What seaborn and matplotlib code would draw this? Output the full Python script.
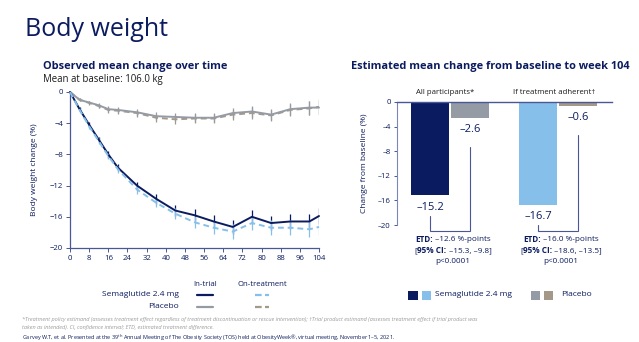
import numpy as np
import pandas as pd
import matplotlib
matplotlib.use("Agg")
import matplotlib.pyplot as plt
import matplotlib.transforms as mtransforms
import seaborn as sns
from matplotlib.lines import Line2D
from matplotlib.patches import Rectangle

# ---------------- data ----------------
weeks = [0, 4, 8, 12, 16, 20, 28, 36, 44, 52, 60, 68, 76, 84, 92, 100, 104]
sema_in_trial = [0, -2.2, -4.2, -6.1, -8.0, -9.7, -12.0, -13.7, -15.2, -15.8, -16.6, -17.3, -16.0, -16.8, -16.6, -16.6, -15.9]
sema_on_treat = [0, -2.3, -4.4, -6.3, -8.2, -9.9, -12.5, -14.2, -15.6, -16.7, -17.4, -17.9, -16.8, -17.4, -17.4, -17.6, -17.3]
pbo_in_trial = [0, -1.0, -1.35, -1.7, -2.2, -2.3, -2.6, -3.1, -3.2, -3.3, -3.3, -2.7, -2.5, -2.9, -2.2, -2.0, -2.0]
pbo_on_treat = [0, -1.0, -1.4, -1.8, -2.3, -2.4, -2.7, -3.3, -3.5, -3.4, -3.4, -2.9, -2.7, -3.0, -2.3, -2.1, -1.9]
sema_in_trial_err = [0, 0.25, 0.3, 0.35, 0.4, 0.45, 0.5, 0.6, 0.7, 0.75, 0.8, 0.9, 0.9, 0.9, 0.9, 0.95, 1.0]
sema_on_treat_err = [0, 0.25, 0.3, 0.35, 0.4, 0.45, 0.55, 0.6, 0.7, 0.75, 0.85, 0.95, 0.95, 0.95, 0.95, 1.0, 1.0]
pbo_in_trial_err = [0, 0.2, 0.25, 0.3, 0.35, 0.4, 0.45, 0.5, 0.55, 0.6, 0.6, 0.65, 0.75, 0.75, 0.8, 0.9, 0.95]
pbo_on_treat_err = [0, 0.2, 0.25, 0.3, 0.35, 0.4, 0.45, 0.5, 0.55, 0.6, 0.6, 0.65, 0.75, 0.75, 0.8, 0.9, 0.95]

x_ticks = list(range(0, 105, 8))
y_ticks = [0, -4, -8, -12, -16, -20]

bar_groups = ["All participants*", "All participants*", "If treatment adherent\u2020", "If treatment adherent\u2020"]
bar_treatments = ["Semaglutide 2.4 mg", "Placebo", "Semaglutide 2.4 mg", "Placebo"]
bar_values = [-15.2, -2.6, -16.7, -0.6]
etd_lines = [
    [[("ETD:", "bold"), (" \u201312.6 %-points", "normal")],
     [("[", "normal"), ("95% CI:", "bold"), (" \u201315.3, \u20139.8]", "normal")],
     [("p<0.0001", "normal")]],
    [[("ETD:", "bold"), (" \u201316.0 %-points", "normal")],
     [("[", "normal"), ("95% CI:", "bold"), (" \u201318.6, \u201313.5]", "normal")],
     [("p<0.0001", "normal")]],
]

# ---------------- style ----------------
NAVY = "#0b1b5f"
SPINE = "#4a5795"
LBLUE = "#86c0ea"
GRAY = "#959ba5"
TAN = "#a49889"
FOOT = "#9a9a9a"
FONT = "Open Sans"

sns.set_theme(style="white")
plt.rcParams["font.family"] = [FONT, "DejaVu Sans"]
plt.rcParams["mathtext.fontset"] = "custom"
plt.rcParams["mathtext.rm"] = FONT
plt.rcParams["mathtext.bf"] = FONT + ":bold"
plt.rcParams["mathtext.it"] = FONT + ":italic"

W, H = 639, 342
fig = plt.figure(figsize=(W / 100, H / 100), dpi=100)
fig.patch.set_facecolor("white")
renderer = fig.canvas.get_renderer()


def fx(x):
    return x / W


def fy(y):
    return 1 - y / H


def rect(x0, y0, x1, y1):
    return [fx(x0), fy(y1), (x1 - x0) / W, (y1 - y0) / H]


def mixed_text(ax, x, y, pieces, **kw):
    """Centered run of text pieces with different weights."""
    texts = []
    widths = []
    for s, w in pieces:
        t = ax.text(x, y, s, fontweight=w, ha="left", va="center", clip_on=False, **kw)
        widths.append(t.get_window_extent(renderer).width)
        texts.append(t)
    total = sum(widths)
    off = -total / 2
    for t, wd in zip(texts, widths):
        t.set_transform(ax.transData + mtransforms.ScaledTranslation(off / fig.dpi, 0,
                                                                      fig.dpi_scale_trans))
        off += wd


# ---------------- titles ----------------
fig.text(fx(25), fy(36), "Body weight", fontsize=18, color=NAVY, va="baseline", ha="left")
fig.text(fx(43), fy(69.3), "Observed mean change over time", fontsize=7.9, fontweight="bold",
         color=NAVY, va="baseline", ha="left")
fig.text(fx(43), fy(81.7), "Mean at baseline: 106.0 kg", fontsize=6.9, color="#1a1a1a",
         va="baseline", ha="left")
fig.text(fx(351.5), fy(69.3), "Estimated mean change from baseline to week 104", fontsize=7.9,
         fontweight="bold", color=NAVY, va="baseline", ha="left")

# ---------------- left: line chart ----------------
ax1 = fig.add_axes(rect(70, 92, 319, 248))
series_names = ["Placebo on-treatment", "Placebo in-trial", "Sema in-trial", "Sema on-treatment"]
df = pd.DataFrame({
    "week": weeks * 4,
    "change": pbo_on_treat + pbo_in_trial + sema_in_trial + sema_on_treat,
    "series": sum([[s] * len(weeks) for s in series_names], []),
})
palette = {"Placebo on-treatment": TAN, "Placebo in-trial": GRAY,
           "Sema in-trial": NAVY, "Sema on-treatment": LBLUE}
dashes = {"Placebo on-treatment": (3, 2), "Placebo in-trial": "",
          "Sema in-trial": "", "Sema on-treatment": (3, 2)}

err_sets = [
    (pbo_on_treat, pbo_on_treat_err, TAN),
    (pbo_in_trial, pbo_in_trial_err, GRAY),
    (sema_in_trial, sema_in_trial_err, NAVY),
    (sema_on_treat, sema_on_treat_err, LBLUE),
]
for vals, errs, col in err_sets:
    v = np.array(vals[1:])
    e = np.array(errs[1:])
    ax1.vlines(weeks[1:], v - e, v + e, color=col, lw=0.9, zorder=2)

sns.lineplot(data=df, x="week", y="change", hue="series", style="series",
             hue_order=series_names, style_order=series_names,
             palette=palette, dashes=dashes, lw=1.4, legend=False, ax=ax1,
             estimator=None, zorder=3)
for ln in ax1.lines:
    ln.set_clip_on(False)

ax1.set_xlim(0, 104)
ax1.set_ylim(-20, 0)
ax1.set_xticks(x_ticks)
ax1.set_yticks(y_ticks)
ax1.set_xlabel("")
ax1.set_ylabel("Body weight change (%)", fontsize=6, color=NAVY)
ax1.yaxis.set_label_coords((38 - 70) / 249, 0.5)
for s in ["top", "right"]:
    ax1.spines[s].set_visible(False)
for s in ["left", "bottom"]:
    ax1.spines[s].set_color(SPINE)
    ax1.spines[s].set_linewidth(0.9)
ax1.tick_params(axis="both", direction="out", length=3, width=0.7, color=SPINE,
                labelsize=5.6, labelcolor=NAVY, pad=2, left=True, bottom=True)
ax1.set_facecolor("white")

# ---------------- right: bar chart ----------------
ax2 = fig.add_axes(rect(397, 102, 612, 225))
bdf = pd.DataFrame({"group": bar_groups, "treatment": bar_treatments, "value": bar_values})
group_order = ["All participants*", "If treatment adherent\u2020"]
treat_order = ["Semaglutide 2.4 mg", "Placebo"]
sns.barplot(data=bdf, x="group", y="value", hue="treatment", order=group_order,
            hue_order=treat_order, width=0.74, gap=0.05, linewidth=0, legend=False,
            ax=ax2, zorder=2)
bar_colors = {("Semaglutide 2.4 mg", 0): NAVY, ("Semaglutide 2.4 mg", 1): LBLUE,
              ("Placebo", 0): GRAY, ("Placebo", 1): TAN}
centers = {}
for t, cont in zip(treat_order, ax2.containers):
    for gi, patch in enumerate(cont.patches):
        patch.set_facecolor(bar_colors[(t, gi)])
        patch.set_edgecolor("none")
        centers[(t, gi)] = patch.get_x() + patch.get_width() / 2

ax2.set_xlim(-0.49, 1.5)
ax2.set_ylim(-20, 0)
ax2.set_yticks(y_ticks)
ax2.set_yticklabels(["0", "\u20134", "\u20138", "\u201312", "\u201316", "\u201320"])
ax2.set_xticks([])
ax2.set_xlabel("")
ax2.set_ylabel("Change from baseline (%)", fontsize=6, color=NAVY)
ax2.yaxis.set_label_coords((368 - 397) / 215, 0.5)
for s in ["right", "bottom"]:
    ax2.spines[s].set_visible(False)
ax2.spines["left"].set_color("#7c86b8")
ax2.spines["left"].set_linewidth(0.8)
ax2.spines["top"].set_color(SPINE)
ax2.spines["top"].set_linewidth(1.0)
ax2.spines["top"].set_zorder(4)
ax2.tick_params(axis="y", direction="out", length=2.5, width=0.7, color=SPINE,
                labelsize=5.6, labelcolor=NAVY, pad=2, left=True)
ax2.set_facecolor("white")

vals_map = {}
for g, t, v in zip(bar_groups, bar_treatments, bar_values):
    vals_map[(t, group_order.index(g))] = v

for gi, g in enumerate(group_order):
    ax2.text(gi - 0.04, 1.5, g, ha="center", va="center", fontsize=5.6, color="#1a1a1a",
             clip_on=False)
    vs = vals_map[("Semaglutide 2.4 mg", gi)]
    vp = vals_map[("Placebo", gi)]
    xs = centers[("Semaglutide 2.4 mg", gi)]
    xp = centers[("Placebo", gi)]
    for xv, v in ((xs, vs), (xp, vp)):
        ax2.text(xv, v - 1.9, f"\u2013{abs(v):.1f}", ha="center", va="center",
                 fontsize=8, color=NAVY, clip_on=False)
    ybot = -20.9
    ax2.plot([xs, xs, xp, xp], [vs - 3.3, ybot, ybot, vp - 4.7], color=SPINE, lw=0.8,
             clip_on=False, solid_joinstyle="miter")
    for li, pieces in enumerate(etd_lines[gi]):
        mixed_text(ax2, gi + 0.03, -22.4 - 1.75 * li, pieces, fontsize=5.9, color=NAVY)

# ---------------- legends ----------------
fig.text(fx(205), fy(285), "In-trial", fontsize=5.6, color=NAVY, ha="center", va="center")
fig.text(fx(262), fy(285), "On-treatment", fontsize=5.6, color=NAVY, ha="center", va="center")
fig.text(fx(178.5), fy(295), "Semaglutide 2.4 mg", fontsize=6, color=NAVY, ha="right", va="center")
fig.text(fx(178.5), fy(306.7), "Placebo", fontsize=6, color=NAVY, ha="right", va="center")
leg_lines = [
    (196.7, 213.3, 295, NAVY, "-"),
    (255, 269.3, 295, LBLUE, (0, (3, 1.5))),
    (196.7, 213.3, 306.7, GRAY, "-"),
    (255, 269.3, 306.7, TAN, (0, (3, 1.5))),
]
for x0, x1, y, c, ls in leg_lines:
    fig.add_artist(Line2D([fx(x0), fx(x1)], [fy(y), fy(y)], color=c, lw=1.6, linestyle=ls,
                          transform=fig.transFigure))

squares = [(408.3, NAVY), (421.7, LBLUE), (531, GRAY), (544, TAN)]
for x0, c in squares:
    fig.add_artist(Rectangle((fx(x0), fy(299.5)), 9.4 / W, 8.8 / H, facecolor=c,
                             edgecolor="none", transform=fig.transFigure))
fig.text(fx(435), fy(295), "Semaglutide 2.4 mg", fontsize=6, color=NAVY, ha="left", va="center")
fig.text(fx(561), fy(295), "Placebo", fontsize=6, color=NAVY, ha="left", va="center")

# ---------------- footnotes ----------------
fig.text(fx(22.5), fy(319.5),
         "*Treatment policy estimand (assesses treatment effect regardless of treatment discontinuation "
         "or rescue intervention); \u2020Trial product estimand (assesses treatment effect if trial product was",
         fontsize=4.0, style="italic", color=FOOT, ha="left", va="center")
fig.text(fx(22.5), fy(327.7),
         "taken as intended). CI, confidence interval; ETD, estimated treatment difference.",
         fontsize=4.0, style="italic", color=FOOT, ha="left", va="center")
fig.text(fx(22.5), fy(338.3),
         "Garvey W.T, et al. Presented at the 39$^{\\mathrm{th}}$ Annual Meeting of The Obesity Society "
         "(TOS) held at ObesityWeek\u00ae, virtual meeting, November 1\u20135, 2021.",
         fontsize=4.0, color=NAVY, ha="left", va="center")

fig.savefig("out.png", dpi=100, facecolor="white")
